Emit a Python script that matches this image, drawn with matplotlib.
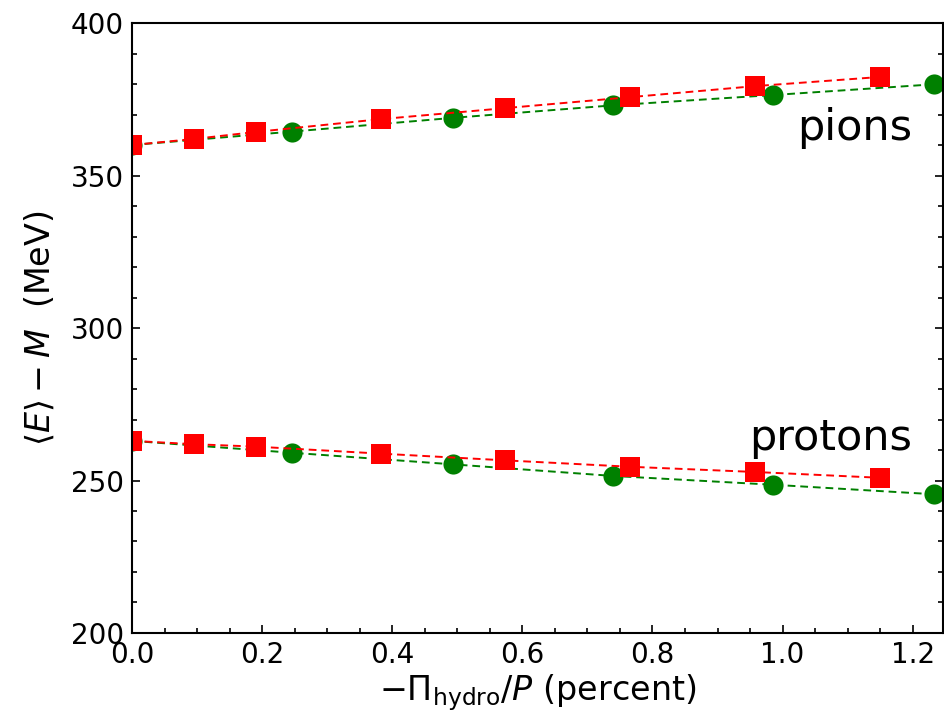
import matplotlib
matplotlib.use("Agg")
import matplotlib.pyplot as plt
from matplotlib.ticker import MultipleLocator

plt.rcParams['font.family'] = ['DejaVu Sans']
plt.rcParams['mathtext.fontset'] = 'dejavusans'

# red squares: one set of runs
x_red = [0.0, 0.096, 0.191, 0.383, 0.574, 0.766, 0.957, 1.149]
pions_red = [360.0, 362.0, 364.3, 368.5, 372.1, 375.7, 379.3, 382.3]
protons_red = [263.0, 261.9, 261.1, 258.8, 256.6, 254.5, 252.8, 250.9]

# green circles: the other set
x_green = [0.0, 0.246, 0.493, 0.739, 0.986, 1.232]
pions_green = [360.0, 364.4, 368.9, 373.0, 376.4, 379.9]
protons_green = [263.0, 259.1, 255.3, 251.5, 248.6, 245.5]

fig = plt.figure(figsize=(9.44, 7.24), dpi=100)
ax = fig.add_axes([0.1398, 0.1257, 0.8591, 0.8425])

line_kw = dict(linestyle='--', dashes=(4, 2.5), linewidth=1.4)
for ys in (pions_green, protons_green):
    ax.plot(x_green, ys, color='green', marker='o', markersize=14.5,
            markeredgewidth=0, **line_kw)
for ys in (pions_red, protons_red):
    ax.plot(x_red, ys, color='red', marker='s', markersize=14.5,
            markeredgewidth=0, **line_kw)

ax.text(1.199, 361.5, 'pions', fontsize=31, ha='right', va='baseline')
ax.text(1.199, 260.0, 'protons', fontsize=31, ha='right', va='baseline')

ax.set_xlim(0, 1.2465)
ax.set_ylim(200, 400)
ax.xaxis.set_major_locator(MultipleLocator(0.2))
ax.xaxis.set_minor_locator(MultipleLocator(0.05))
ax.yaxis.set_major_locator(MultipleLocator(50))
ax.yaxis.set_minor_locator(MultipleLocator(10))
ax.tick_params(which='both', direction='in', right=True, top=False,
               width=1.2, labelsize=20, pad=6)
ax.tick_params(which='major', length=6)
ax.tick_params(which='minor', length=3.5)
for s in ax.spines.values():
    s.set_linewidth(1.5)

ax.set_xlabel(r'$-\Pi_{\rm hydro}/P$ (percent)', fontsize=24, labelpad=2)
ax.set_ylabel(r'$\langle E\rangle - M$  (MeV)', fontsize=24, labelpad=10)

fig.savefig('out.png', dpi=100)
